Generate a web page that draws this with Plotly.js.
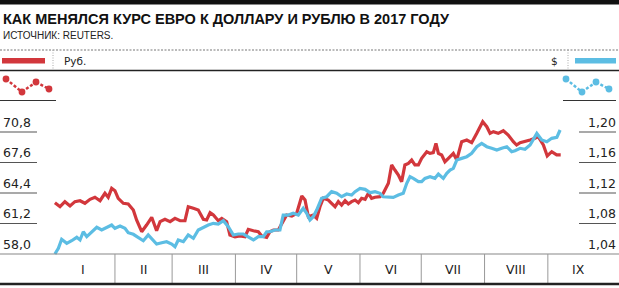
<!DOCTYPE html>
<html>
<head>
<meta charset="utf-8">
<script src="https://cdn.plot.ly/plotly-3.0.1.min.js"></script>
<style>
html,body{margin:0;padding:0;background:#fff;}
#chart{width:619px;height:288px;}
</style>
</head>
<body>
<div id="chart"></div>
<script>
// ---- data (x = day of year 2017) ----
const rubDay = [2.6,5.1,7.5,10.0,12.4,14.9,17.3,19.8,22.2,24.7,27.1,28.7,30.4,32.0,33.6,36.1,38.5,41.0,42.6,45.1,47.5,50.0,52.4,54.1,56.5,59.0,61.4,63.9,66.3,67.9,70.4,72.8,75.3,76.9,78.6,80.2,82.6,84.3,86.7,88.3,90.8,93.2,95.7,97.3,99.8,102.2,103.9,106.3,107.9,109.6,112.0,113.7,116.1,118.6,121.0,123.5,125.1,126.7,
129.1,130.8,132.4,134.0,136.5,138.1,139.8,141.4,143.0,144.7,146.3,147.9,149.6,151.2,152.8,154.5,156.1,157.7,159.4,161.8,163.4,165.9,167.5,169.1,170.8,172.4,174.0,175.7,177.3,178.9,180.6,182.2,184.7,186.3,187.9,189.2,190.4,192.0,193.6,195.3,197.7,199.4,201.8,204.3,206.7,209.2,212.1,214.1,215.7,217.3,219.7,222.2,224.6,227.1,228.7,230.4,232.8,235.3,237.7,239.3,241.8,243.7,245.9,248.3,250.3];
const rubVal = [63.38,62.96,63.49,63.04,63.49,63.59,63.32,63.74,63.95,63.59,64.37,63.95,64.89,64.64,63.84,63.32,63.25,62.62,61.57,60.34,61.04,61.85,60.44,61.39,61.64,61.39,61.74,61.49,61.49,62.96,62.79,62.62,61.64,61.57,62.33,62.09,61.49,61.74,61.39,59.99,59.81,59.89,59.81,60.59,60.44,60.34,59.89,59.75,60.34,60.52,60.52,61.22,62.09,61.99,62.27,64.08,63.66,61.91,
62.09,61.74,62.96,63.84,63.66,63.32,62.96,63.49,63.14,63.59,63.25,63.49,63.66,63.38,63.84,63.74,64.37,63.84,63.95,64.01,64.37,65.42,67.34,66.81,66.29,65.58,67.34,67.51,67.86,67.34,67.34,68.04,68.73,68.56,68.63,69.61,68.56,68.39,67.68,68.04,68.56,67.86,69.78,69.96,69.68,70.66,71.88,71.35,70.66,70.83,70.66,70.93,70.48,69.78,69.43,69.68,69.78,69.96,70.14,70.31,69.43,68.28,68.73,68.39,68.39];
const usdDay = [2.6,4.3,5.9,8.4,10.8,13.3,14.9,16.5,18.2,20.6,23.1,25.5,28.0,30.4,32.0,34.5,36.9,38.5,41.0,43.4,45.9,48.3,50.8,52.4,54.9,57.3,59.8,61.4,63.0,65.5,67.9,70.4,72.8,75.3,77.7,80.2,82.6,85.1,87.5,90.0,92.4,94.9,97.3,99.8,102.2,104.7,106.3,107.9,110.4,112.8,114.4,116.9,119.3,121.8,124.2,125.9,127.5,
129.1,130.8,133.2,135.7,138.1,140.6,143.0,145.5,147.9,149.6,152.0,154.5,156.9,159.4,161.8,163.4,165.9,168.3,170.8,173.2,174.9,176.5,178.1,180.6,182.2,183.8,186.3,188.7,190.4,192.8,194.5,196.1,197.7,199.4,201.8,204.3,206.7,209.2,211.6,214.1,216.5,219.0,221.4,223.9,226.3,227.9,230.4,232.8,235.3,238.6,241.0,243.5,245.9,248.4,250.0];
const usdVal = [1.0400,1.0475,1.0593,1.0540,1.0574,1.0619,1.0584,1.0692,1.0627,1.0692,1.0750,1.0715,1.0750,1.0780,1.0737,1.0767,1.0737,1.0679,1.0658,1.0619,1.0574,1.0649,1.0584,1.0531,1.0548,1.0561,1.0531,1.0496,1.0584,1.0561,1.0649,1.0606,1.0715,1.0750,1.0780,1.0802,1.0793,1.0837,1.0758,1.0649,1.0662,1.0662,1.0619,1.0584,1.0627,1.0627,1.0692,1.0692,1.0715,1.0715,1.0911,1.0911,1.0934,1.0911,1.0999,1.0934,1.0846,
1.0889,1.0977,1.1130,1.1151,1.1217,1.1196,1.1151,1.1187,1.1173,1.1217,1.1261,1.1248,1.1204,1.1217,1.1196,1.1151,1.1151,1.1143,1.1173,1.1196,1.1327,1.1413,1.1392,1.1348,1.1348,1.1392,1.1413,1.1392,1.1449,1.1392,1.1458,1.1501,1.1523,1.1632,1.1654,1.1676,1.1720,1.1807,1.1851,1.1807,1.1786,1.1763,1.1786,1.1807,1.1741,1.1754,1.1786,1.1773,1.1829,1.1982,1.1895,1.1872,1.1917,1.1930,1.2026];
const monthStart = [1,32,60,91,121,152,182,213,244,274];
const monthLabels = ['I','II','III','IV','V','VI','VII','VIII','IX'];
const rubTicks = [58.0,61.2,64.4,67.6,70.8];
const rubTickText = ['58,0','61,2','64,4','67,6','70,8'];
const usdTicks = [1.04,1.08,1.12,1.16,1.20];
const usdTickText = ['1,04','1,08','1,12','1,16','1,20'];
const titleText = 'КАК МЕНЯЛСЯ КУРС ЕВРО К ДОЛЛАРУ И РУБЛЮ В 2017 ГОДУ';
const sourceText = 'ИСТОЧНИК: REUTERS.';
const rubLabel = 'Руб.';
const usdLabel = '$';

// ---- styling / layout ----
const RED = '#d2373c', BLUE = '#5cbde3';
const W = 619, H = 288, T = 110, B = 26;
const PH = H - T - B;
const X = px => px / W;
const Y = py => (H - B - py) / PH;

const traces = [
  {x: rubDay, y: rubVal, type: 'scatter', mode: 'lines', line: {color: RED, width: 3.2}, yaxis: 'y', hoverinfo: 'skip'},
  {x: usdDay, y: usdVal, type: 'scatter', mode: 'lines', line: {color: BLUE, width: 3.2}, yaxis: 'y2', hoverinfo: 'skip'}
];

const shapes = [];
const ann = [];
const line = (x0,y0,x1,y1,color,width,dash) => shapes.push({type:'line',xref:'paper',yref:'paper',x0:X(x0),x1:X(x1),y0:Y(y0),y1:Y(y1),line:{color:color,width:width,dash:dash||'solid'}});

// header
shapes.push({type:'rect',xref:'paper',yref:'paper',x0:0,x1:1,y0:Y(4.5),y1:Y(-1),fillcolor:'#111',line:{width:0}});
line(0,50,619,50,'#777',1,'2px,1.5px');
line(0,70.5,619,70.5,'#222',1.3);
line(53,50,53,70,'#aaa',1,'1px,1.5px');
line(568,50,568,70,'#aaa',1,'1px,1.5px');
shapes.push({type:'rect',xref:'paper',yref:'paper',x0:X(2),x1:X(45),y0:Y(63.5),y1:Y(58),fillcolor:RED,line:{width:0}});
shapes.push({type:'rect',xref:'paper',yref:'paper',x0:X(575),x1:X(616),y0:Y(63.5),y1:Y(58),fillcolor:BLUE,line:{width:0}});
// legend icons
const iconR = [[6,79],[22,92],[36,82],[49,89]];
const iconB = [[566,79],[582,92],[596,82],[609,89]];
[[iconR,RED],[iconB,BLUE]].forEach(([pts,c])=>{
  for(let i=0;i<pts.length-1;i++) line(pts[i][0],pts[i][1],pts[i+1][0],pts[i+1][1],c,2.5,'3px,2px');
  pts.forEach(p=>shapes.push({type:'circle',xref:'paper',yref:'paper',x0:X(p[0]-3.4),x1:X(p[0]+3.4),y0:Y(p[1]+3.4),y1:Y(p[1]-3.4),fillcolor:c,line:{width:0}}));
});
line(0,100.5,56,100.5,'#333',1);
line(563,100.5,616,100.5,'#333',1);

// tick underlines
rubTicks.slice(1).forEach(v=>shapes.push({type:'line',xref:'paper',yref:'y',x0:0,x1:X(37),y0:v,y1:v,line:{color:'#555',width:1.2}}));
usdTicks.slice(1).forEach(v=>shapes.push({type:'line',xref:'paper',yref:'y2',x0:X(579),x1:X(616),y0:v,y1:v,line:{color:'#555',width:1.2}}));
// baseline
shapes.push({type:'line',xref:'paper',yref:'y',x0:0,x1:1,y0:rubTicks[0],y1:rubTicks[0],line:{color:'#888',width:1.2}});
// month separators
monthStart.slice(1,-1).forEach(d=>shapes.push({type:'line',xref:'x',yref:'paper',x0:d,x1:d,y0:Y(254),y1:Y(283),line:{color:'#999',width:1}}));
line(0,284,619,284,'#222',2.6);

// tick labels
const tickFont = {family:'DejaVu Sans, Liberation Sans, sans-serif', size:12.5, color:'#222'};
rubTicks.forEach((v,i)=>ann.push({xref:'paper',yref:'y',x:X(2),y:v,xanchor:'left',yanchor:'bottom',text:rubTickText[i],showarrow:false,font:tickFont,borderpad:0,yshift:1}));
usdTicks.forEach((v,i)=>ann.push({xref:'paper',yref:'y2',x:X(617),y:v,xanchor:'right',yanchor:'bottom',text:usdTickText[i],showarrow:false,font:tickFont,borderpad:0,yshift:1}));
// month labels
monthLabels.forEach((m,i)=>ann.push({xref:'x',yref:'paper',x:(monthStart[i]+monthStart[i+1])/2,y:Y(269),xanchor:'center',yanchor:'middle',text:m,showarrow:false,font:{family:'DejaVu Sans, sans-serif',size:12.5,color:'#222'}}));
// header texts
ann.push({xref:'paper',yref:'paper',x:X(1),y:Y(19),xanchor:'left',yanchor:'middle',text:'<b>'+titleText+'</b>',showarrow:false,font:{family:'Liberation Sans, Arial, sans-serif',size:14.5,color:'#111'}});
ann.push({xref:'paper',yref:'paper',x:X(1),y:Y(36),xanchor:'left',yanchor:'middle',text:sourceText,showarrow:false,font:{family:'Liberation Sans, Arial, sans-serif',size:10,color:'#222'}});
ann.push({xref:'paper',yref:'paper',x:X(62),y:Y(61),xanchor:'left',yanchor:'middle',text:rubLabel,showarrow:false,font:{family:'DejaVu Sans, sans-serif',size:10.5,color:'#222'}});
ann.push({xref:'paper',yref:'paper',x:X(559.5),y:Y(61),xanchor:'right',yanchor:'middle',text:usdLabel,showarrow:false,font:{family:'DejaVu Sans, sans-serif',size:10.5,color:'#222'}});

const dayPerPx = 1/2.042, x0px = 49.6;
const layout = {
  width: W, height: H,
  margin: {l:0, r:0, t:T, b:B, pad:0},
  paper_bgcolor:'#fff', plot_bgcolor:'#fff',
  showlegend:false,
  xaxis: {range:[(0-x0px)*dayPerPx,(W-x0px)*dayPerPx], showgrid:false, zeroline:false, showticklabels:false, ticks:'', showline:false, fixedrange:true},
  yaxis: {range:[58-8*0.1049, 58+144*0.1049], showgrid:false, zeroline:false, showticklabels:false, ticks:'', showline:false},
  yaxis2: {overlaying:'y', side:'right', range:[1.04-8*0.1049*0.0125, 1.04+144*0.1049*0.0125], showgrid:false, zeroline:false, showticklabels:false, ticks:'', showline:false},
  shapes: shapes,
  annotations: ann
};
Plotly.newPlot('chart', traces, layout, {displayModeBar:false, staticPlot:true});
</script>
</body>
</html>
